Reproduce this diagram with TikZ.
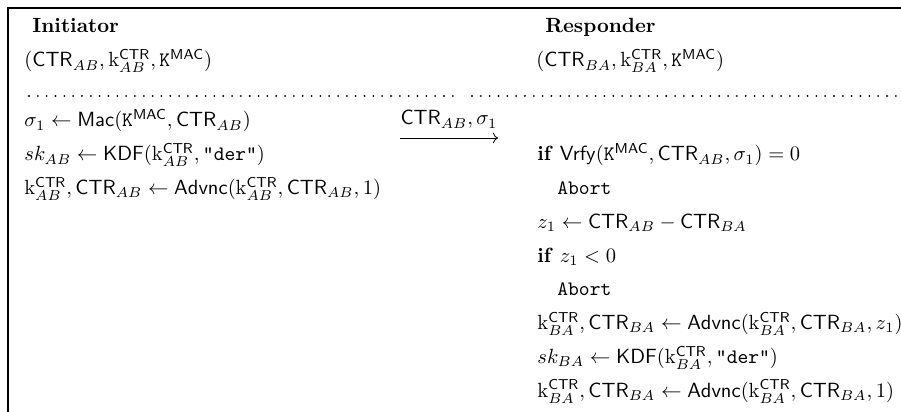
\documentclass[tikz,border=0pt]{standalone}
\usetikzlibrary{arrows.meta,positioning,calc}
\newcommand{\Ctr}{\mathsf{CTR}}
\newcommand{\Kmac}{\mathtt{K}^{\mathsf{MAC}}}
\newcommand{\kCtr}[1]{\mathrm{k}^{\mathsf{CTR}}_{#1}}
\begin{document}
\begin{tikzpicture}[x=0.487pt, y=-0.487pt,
  line/.style={anchor=base west, inner sep=0pt},
  head/.style={line, font=\bfseries},
  sep/.style={line width=1pt, dash pattern=on 0pt off 4.3pt, line cap=round},
  msg/.style={-{Computer Modern Rightarrow}, thin},
  frame/.style={line width=0.9pt}]
\useasboundingbox (0,0) rectangle (901,412);
\draw[frame] (8,412) -- (8,8) -- (901,8);
% initiator
\node[head] (ini) at (32,33) {Initiator};
\node[line] (stA) at (24,67) {$(\Ctr_{AB}, \kCtr{AB}, \Kmac)$};
\node[line] (macA) at (24,127) {$\sigma_1 \leftarrow \mathsf{Mac}(\Kmac, \Ctr_{AB})$};
\node[line] (kdfA) at (24,161) {$sk_{AB} \leftarrow \mathsf{KDF}(\kCtr{AB}, \texttt{"der"})$};
\node[line] (advA) at (24,194.6) {$\kCtr{AB}, \Ctr_{AB} \leftarrow \mathsf{Advnc}(\kCtr{AB}, \Ctr_{AB}, 1)$};
% responder
\node[head] (resp) at (545,33) {Responder};
\node[line] (stB) at (536,67) {$(\Ctr_{BA}, \kCtr{BA}, \Kmac)$};
\node[line] (vrfy) at (537,161) {\textbf{if} $\mathsf{Vrfy}(\Kmac, \Ctr_{AB}, \sigma_1) = 0$};
\node[line] (abortA) at (557,194.6) {\texttt{Abort}};
\node[line] (zdiff) at (537,228.4) {$z_1 \leftarrow \Ctr_{AB} - \Ctr_{BA}$};
\node[line] (ifz) at (537,262.2) {\textbf{if} $z_1 < 0$};
\node[line] (abortB) at (557,296) {\texttt{Abort}};
\node[line] (advB) at (537,329.8) {$\kCtr{BA}, \Ctr_{BA} \leftarrow \mathsf{Advnc}(\kCtr{BA}, \Ctr_{BA}, z_1)$};
\node[line] (kdfB) at (537,363.6) {$sk_{BA} \leftarrow \mathsf{KDF}(\kCtr{BA}, \texttt{"der"})$};
\node[line] (advC) at (537,397.4) {$\kCtr{BA}, \Ctr_{BA} \leftarrow \mathsf{Advnc}(\kCtr{BA}, \Ctr_{BA}, 1)$};
% separators
\draw[sep] (29,96) -- (458,96);
\draw[sep] (472,96) -- (901,96);
% message
\coordinate (msgL) at (400,138);
\coordinate (msgR) at (498,138);
\node[anchor=base, inner sep=0pt] (msgtxt) at (449,125) {$\Ctr_{AB}, \sigma_1$};
\draw[msg] (msgL) -- (msgR);
\end{tikzpicture}
\end{document}
